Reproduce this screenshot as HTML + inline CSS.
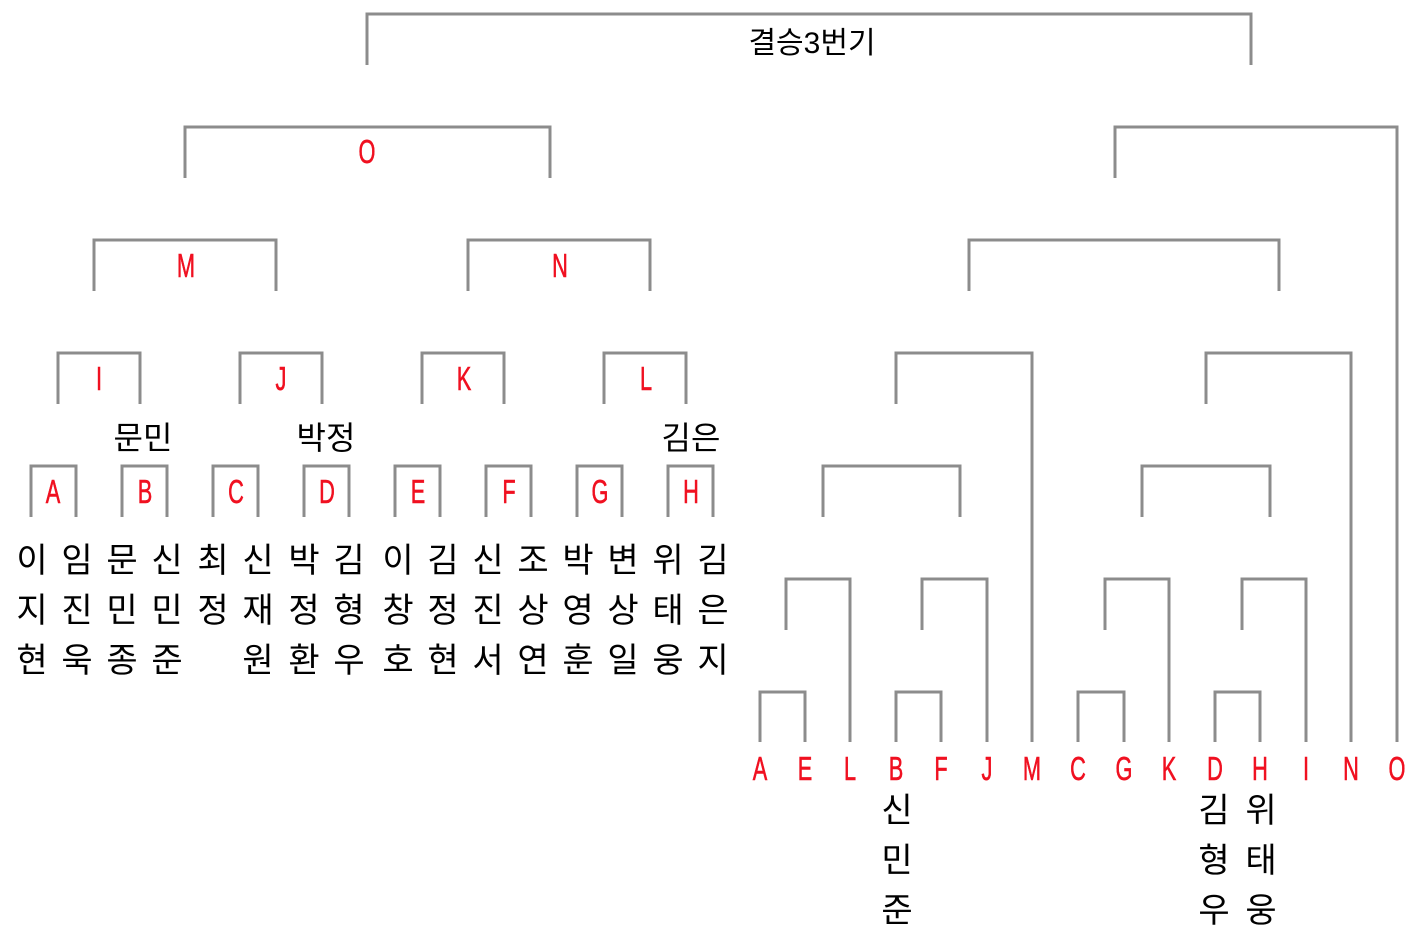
<!DOCTYPE html>
<html><head><meta charset="utf-8"><style>
html,body{margin:0;padding:0;background:#fff;}
svg{display:block;}
.k{font-family:"Liberation Sans","Noto Sans CJK KR",sans-serif;fill:#000;}
.r{font-family:"Liberation Sans",sans-serif;fill:#f01020;font-size:33px;stroke:#f01020;stroke-width:0.6;}
</style></head><body>
<svg width="1414" height="936" viewBox="0 0 1414 936" xmlns="http://www.w3.org/2000/svg">
<g fill="none" stroke="#8c8c8c" stroke-width="3">
<path d="M367 65V14H1251V65"/>
<path d="M185 178V127H550V178"/>
<path d="M94 291V240H276V291"/>
<path d="M468 291V240H650V291"/>
<path d="M58 404V353H140V404"/>
<path d="M240 404V353H322V404"/>
<path d="M422 404V353H504V404"/>
<path d="M604 404V353H686V404"/>
<path d="M31 517V466H76V517"/>
<path d="M122 517V466H167V517"/>
<path d="M213 517V466H258V517"/>
<path d="M304 517V466H349V517"/>
<path d="M395 517V466H440V517"/>
<path d="M486 517V466H531V517"/>
<path d="M577 517V466H622V517"/>
<path d="M668 517V466H713V517"/>
<path d="M760 742V692H805V742"/>
<path d="M896 742V692H941V742"/>
<path d="M1078 742V692H1124V742"/>
<path d="M1215 742V692H1260V742"/>
<path d="M786 630V579H850V742"/>
<path d="M922 630V579H987V742"/>
<path d="M1105 630V579H1169V742"/>
<path d="M1242 630V579H1306V742"/>
<path d="M823 517V466H960V517"/>
<path d="M1142 517V466H1270V517"/>
<path d="M896 404V353H1032V742"/>
<path d="M1206 404V353H1351V742"/>
<path d="M969 291V240H1279V291"/>
<path d="M1115 178V127H1397V742"/>
</g>
<text class="k" x="812" y="53" font-size="30" text-anchor="middle">결승3번기</text>
<g class="r" text-anchor="middle">
<text transform="translate(367,163) scale(0.66,1)">O</text>
<text transform="translate(186,277) scale(0.66,1)">M</text>
<text transform="translate(560,277) scale(0.66,1)">N</text>
<text transform="translate(99,390) scale(0.66,1)">I</text>
<text transform="translate(281,390) scale(0.66,1)">J</text>
<text transform="translate(464,390) scale(0.66,1)">K</text>
<text transform="translate(646,390) scale(0.66,1)">L</text>
<text transform="translate(53,503) scale(0.66,1)">A</text>
<text transform="translate(145,503) scale(0.66,1)">B</text>
<text transform="translate(236,503) scale(0.66,1)">C</text>
<text transform="translate(327,503) scale(0.66,1)">D</text>
<text transform="translate(418,503) scale(0.66,1)">E</text>
<text transform="translate(509,503) scale(0.66,1)">F</text>
<text transform="translate(600,503) scale(0.66,1)">G</text>
<text transform="translate(691,503) scale(0.66,1)">H</text>
<text transform="translate(760,780) scale(0.66,1)">A</text>
<text transform="translate(805,780) scale(0.66,1)">E</text>
<text transform="translate(850,780) scale(0.66,1)">L</text>
<text transform="translate(896,780) scale(0.66,1)">B</text>
<text transform="translate(941,780) scale(0.66,1)">F</text>
<text transform="translate(987,780) scale(0.66,1)">J</text>
<text transform="translate(1032,780) scale(0.66,1)">M</text>
<text transform="translate(1078,780) scale(0.66,1)">C</text>
<text transform="translate(1124,780) scale(0.66,1)">G</text>
<text transform="translate(1169,780) scale(0.66,1)">K</text>
<text transform="translate(1215,780) scale(0.66,1)">D</text>
<text transform="translate(1260,780) scale(0.66,1)">H</text>
<text transform="translate(1306,780) scale(0.66,1)">I</text>
<text transform="translate(1351,780) scale(0.66,1)">N</text>
<text transform="translate(1397,780) scale(0.66,1)">O</text>
</g>
<g class="k" font-size="32" text-anchor="middle">
<text x="143" y="449">문민</text>
<text x="326" y="449">박정</text>
<text x="691" y="449">김은</text>
</g>
<g class="k" font-size="34" text-anchor="middle">
<text x="32" y="572">이</text><text x="32" y="622">지</text><text x="32" y="672">현</text>
<text x="77" y="572">임</text><text x="77" y="622">진</text><text x="77" y="672">욱</text>
<text x="122" y="572">문</text><text x="122" y="622">민</text><text x="122" y="672">종</text>
<text x="167" y="572">신</text><text x="167" y="622">민</text><text x="167" y="672">준</text>
<text x="213" y="572">최</text><text x="213" y="622">정</text>
<text x="258" y="572">신</text><text x="258" y="622">재</text><text x="258" y="672">원</text>
<text x="304" y="572">박</text><text x="304" y="622">정</text><text x="304" y="672">환</text>
<text x="349" y="572">김</text><text x="349" y="622">형</text><text x="349" y="672">우</text>
<text x="398" y="572">이</text><text x="398" y="622">창</text><text x="398" y="672">호</text>
<text x="443" y="572">김</text><text x="443" y="622">정</text><text x="443" y="672">현</text>
<text x="488" y="572">신</text><text x="488" y="622">진</text><text x="488" y="672">서</text>
<text x="533" y="572">조</text><text x="533" y="622">상</text><text x="533" y="672">연</text>
<text x="578" y="572">박</text><text x="578" y="622">영</text><text x="578" y="672">훈</text>
<text x="623" y="572">변</text><text x="623" y="622">상</text><text x="623" y="672">일</text>
<text x="668" y="572">위</text><text x="668" y="622">태</text><text x="668" y="672">웅</text>
<text x="713" y="572">김</text><text x="713" y="622">은</text><text x="713" y="672">지</text>
<text x="897" y="822">신</text><text x="897" y="872">민</text><text x="897" y="922">준</text>
<text x="1214" y="822">김</text><text x="1214" y="872">형</text><text x="1214" y="922">우</text>
<text x="1261" y="822">위</text><text x="1261" y="872">태</text><text x="1261" y="922">웅</text>
</g>
</svg>
</body></html>
